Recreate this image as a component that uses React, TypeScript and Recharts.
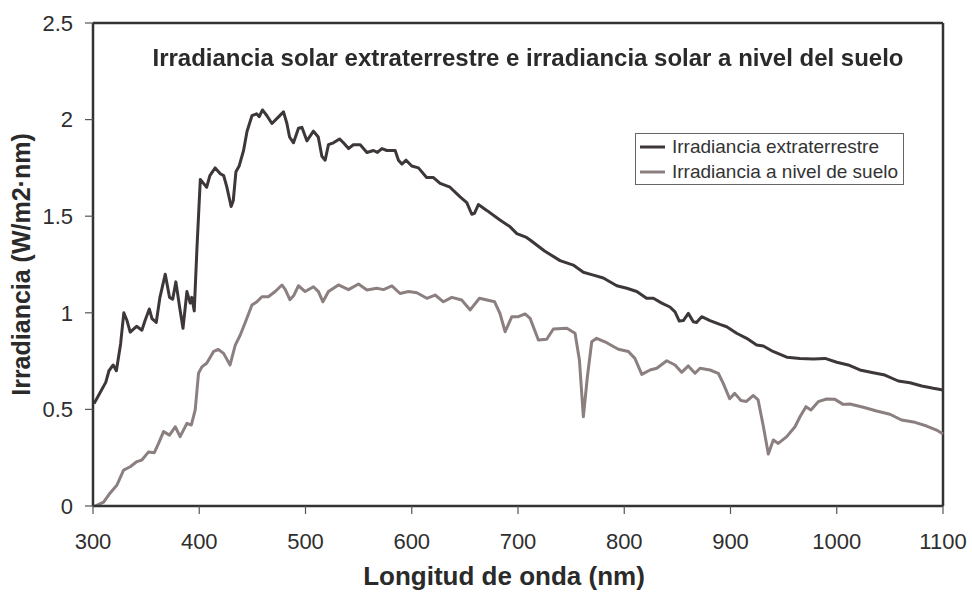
import React from 'react';
import { LineChart, Line, XAxis, YAxis, Legend, ReferenceLine } from 'recharts';

// wavelengths (nm) and irradiance (W/m2·nm)
const extWl = [
  301, 307, 312, 315, 319, 322, 326, 329, 332, 335, 341, 346, 349, 353, 355.5, 359.5,
  363, 368, 372, 375, 378, 381.5, 384.7, 388.4, 391.5, 393, 395.3, 397.8, 401, 404,
  407, 410, 415, 419.8, 423, 426, 430, 432, 434.5, 437.6, 441.7, 445, 449.6, 454,
  456.5, 459.5, 463.7, 468.4, 473, 479.3, 482.5, 485, 488.7, 493.4, 496.6, 501.3,
  507.5, 512, 515.4, 518.5, 521.6, 526.3, 532, 535.7, 540.5, 545, 551.5, 557.8, 564,
  567.7, 571.9, 576.6, 584.4, 587.5, 590.7, 594.7, 600, 606.3, 614, 620.4, 626.7, 636,
  645.5, 651.8, 656.5, 659, 662.7, 670.6, 683, 692.6, 698.9, 708, 711.4, 725, 739.6,
  752, 761.5, 771, 780.3, 793, 802.4, 811.8, 821, 827.4, 835.3, 843, 847.8, 851.8,
  855.6, 860.3, 865, 868, 872.9, 880.7, 890, 896.4, 905.8, 915.2, 924.6, 930.9, 940,
  952.9, 965.4, 977.9, 989, 1000, 1010.8, 1021.8, 1034.3, 1045.3, 1057.9, 1068.9, 1080,
  1090.8, 1100,
];
const extVal = [
  0.53, 0.59, 0.64, 0.7, 0.73, 0.7, 0.84, 1.0, 0.96, 0.9, 0.93, 0.91, 0.96, 1.02, 0.97, 0.95,
  1.08, 1.2, 1.08, 1.07, 1.16, 1.03, 0.92, 1.11, 1.05, 1.08, 1.01, 1.33, 1.69, 1.67,
  1.65, 1.71, 1.75, 1.72, 1.71, 1.65, 1.55, 1.58, 1.73, 1.76, 1.84, 1.94, 2.02, 2.03,
  2.015, 2.05, 2.02, 1.98, 2.005, 2.04, 1.98, 1.91, 1.88, 1.955, 1.96, 1.89,
  1.94, 1.91, 1.81, 1.79, 1.87, 1.88, 1.9, 1.88, 1.85, 1.87, 1.87, 1.83, 1.84,
  1.83, 1.85, 1.84, 1.84, 1.79, 1.77, 1.79, 1.76, 1.75, 1.7, 1.7, 1.67, 1.65,
  1.6, 1.57, 1.51, 1.515, 1.56, 1.53, 1.48, 1.445, 1.41, 1.39, 1.377, 1.32, 1.27,
  1.247, 1.21, 1.195, 1.18, 1.14, 1.127, 1.11, 1.075, 1.075, 1.05, 1.03, 1.005, 0.957,
  0.96, 0.997, 0.954, 0.95, 0.98, 0.96, 0.94, 0.928, 0.894, 0.868, 0.833, 0.828, 0.8,
  0.77, 0.764, 0.761, 0.764, 0.744, 0.73, 0.704, 0.69, 0.678, 0.647, 0.638, 0.621,
  0.609, 0.6,
];

const groundWl = [
  302, 310, 316, 322.6, 328.8, 335, 341.4, 346, 352.3, 357.7, 361.7, 366.4, 372, 377.4,
  382, 388.4, 392.5, 396.2, 399.3, 402.5, 407, 413.5, 418, 422.9, 429, 433.9, 438.6,
  443, 449.6, 454.3, 459, 465, 471.5, 477.8, 481, 485.3, 489, 493.4, 499.7, 507.5,
  512.2, 516.4, 521.6, 531, 540.5, 549.9, 557.8, 567, 573.4, 581.3, 589, 596.9, 604.8,
  614.2, 622, 629.8, 637.7, 647, 655, 663.7, 678, 683, 687.9, 694.2, 700.4, 706.7,
  711.4, 719.2, 727, 733.3, 746, 753.7, 757.8, 761.5, 765.3, 769.4, 774, 783.5, 794.4,
  803.9, 810, 816.5, 824.3, 830.6, 840, 847.8, 854, 860.3, 866.6, 871.3, 880.7, 888.5,
  893.2, 899.2, 904, 909.8, 915, 921.5, 926, 931, 935.6, 940.3, 945, 952.9, 960.7,
  965.4, 971, 975.7, 982.6, 990.5, 998.3, 1006, 1012.4, 1025, 1037.5, 1050, 1061,
  1073.6, 1084.6, 1094, 1100,
];
const groundVal = [
  0.0, 0.02, 0.066, 0.109, 0.186, 0.203, 0.23, 0.238, 0.28, 0.276, 0.324, 0.385, 0.367, 0.41,
  0.359, 0.428, 0.419, 0.497, 0.687, 0.72, 0.739, 0.8, 0.81, 0.79, 0.73, 0.833, 0.885,
  0.946, 1.04, 1.057, 1.083, 1.083, 1.11, 1.144, 1.12, 1.068, 1.09, 1.14, 1.11, 1.135,
  1.11, 1.057, 1.11, 1.144, 1.12, 1.149, 1.118, 1.127, 1.12, 1.139, 1.1, 1.11, 1.104,
  1.075, 1.092, 1.057, 1.08, 1.066, 1.015, 1.075, 1.057, 0.997, 0.902, 0.98, 0.98, 0.994,
  0.971, 0.859, 0.863, 0.916, 0.92, 0.894, 0.756, 0.462, 0.669, 0.85, 0.868, 0.845, 0.811,
  0.8, 0.764, 0.681, 0.704, 0.713, 0.752, 0.73, 0.692, 0.725, 0.687, 0.713, 0.704, 0.687,
  0.635, 0.555, 0.583, 0.546, 0.541, 0.572, 0.549, 0.41, 0.269, 0.342, 0.324, 0.359, 0.41,
  0.462, 0.514, 0.497, 0.54, 0.554, 0.552, 0.526, 0.528, 0.511, 0.492, 0.475, 0.445,
  0.433, 0.414, 0.393, 0.373,
];

const xTicks = [300, 400, 500, 600, 700, 800, 900, 1000, 1100];
const yTicks = [0, 0.5, 1, 1.5, 2, 2.5];

const seriesNames = ['Irradiancia extraterrestre', 'Irradiancia a nivel de suelo'];
const seriesColors = ['#3e3739', '#8b7f7f'];

const extData = extWl.map((wl, i) => ({ wl, v: extVal[i] }));
const groundData = groundWl.map((wl, i) => ({ wl, v: groundVal[i] }));

const axisColor = '#333';
const tickStyle = { fill: '#2e2e2e', fontSize: 22 };

const renderLegend = () => (
  <div
    style={{
      border: '1px solid #666',
      background: '#fff',
      width: 267,
      height: 50,
      fontSize: 19,
      color: '#333',
    }}
  >
    {seriesNames.map((name, i) => (
      <div key={name} style={{ display: 'flex', alignItems: 'center', height: 25 }}>
        <svg width={25} height={6} style={{ marginLeft: 4 }}>
          <line x1={0} y1={3} x2={25} y2={3} stroke={seriesColors[i]} strokeWidth={3} />
        </svg>
        <span style={{ marginLeft: 7, whiteSpace: 'nowrap' }}>{name}</span>
      </div>
    ))}
  </div>
);

export default function App() {
  return (
    <div
      style={{
        position: 'fixed',
        left: 0,
        top: 0,
        width: 972,
        height: 592,
        background: '#fff',
        fontFamily: '"Liberation Sans", Arial, sans-serif',
      }}
    >
      <LineChart width={972} height={592} margin={{ top: 23, right: 29, bottom: 0, left: 0 }}>
        <XAxis
          dataKey="wl"
          type="number"
          domain={[300, 1100]}
          ticks={xTicks}
          interval={0}
          height={86}
          tickSize={8}
          tickMargin={19}
          tick={tickStyle}
          axisLine={{ stroke: axisColor, strokeWidth: 2.5 }}
          tickLine={{ stroke: '#555', strokeWidth: 1.2 }}
          label={{
            value: 'Longitud de onda (nm)',
            position: 'insideBottom',
            offset: 7,
            dx: -14,
            style: { fontWeight: 'bold', fontSize: 26, fill: '#2a2a2a' },
          }}
        />
        <YAxis
          type="number"
          domain={[0, 2.5]}
          ticks={yTicks}
          interval={0}
          width={93}
          tickSize={8}
          tickMargin={12}
          tick={tickStyle}
          axisLine={{ stroke: axisColor, strokeWidth: 2.5 }}
          tickLine={{ stroke: '#555', strokeWidth: 1.2 }}
          label={{
            value: 'Irradiancia (W/m2·nm)',
            angle: -90,
            position: 'insideLeft',
            offset: 21,
            style: { textAnchor: 'middle', fontWeight: 'bold', fontSize: 25, fill: '#2a2a2a' },
          }}
        />
        {/* frame: top and right edges of the plot box */}
        <ReferenceLine y={2.5} stroke={axisColor} strokeWidth={2.5} />
        <ReferenceLine x={1100} stroke={axisColor} strokeWidth={2.5} />
        <Legend
          layout="vertical"
          align="center"
          verticalAlign="middle"
          content={renderLegend}
          wrapperStyle={{ left: 635, top: 133, width: 269, height: 52 }}
        />
        <Line
          data={extData}
          dataKey="v"
          name={seriesNames[0]}
          type="linear"
          stroke={seriesColors[0]}
          strokeWidth={3}
          strokeLinejoin="round"
          dot={false}
          isAnimationActive={false}
        />
        <Line
          data={groundData}
          dataKey="v"
          name={seriesNames[1]}
          type="linear"
          stroke={seriesColors[1]}
          strokeWidth={3}
          strokeLinejoin="round"
          dot={false}
          isAnimationActive={false}
        />
      </LineChart>
      <div
        style={{
          position: 'absolute',
          left: 28,
          width: 1000,
          top: 44,
          textAlign: 'center',
          fontWeight: 'bold',
          fontSize: 24,
          color: '#2a2a2a',
          whiteSpace: 'nowrap',
        }}
      >
        Irradiancia solar extraterrestre e irradiancia solar a nivel del suelo
      </div>
    </div>
  );
}
